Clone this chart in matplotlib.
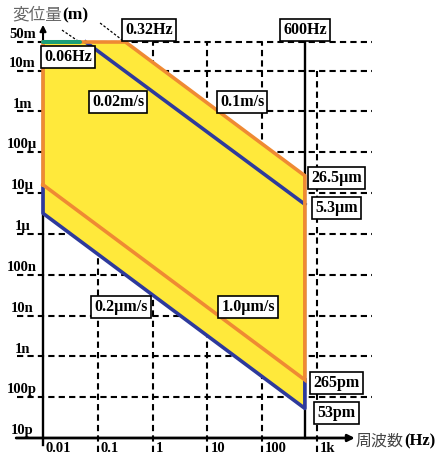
import matplotlib
matplotlib.use("Agg")
from matplotlib import pyplot as plt
import numpy as np

plt.rcParams["font.family"] = ["Liberation Serif", "DejaVu Serif"]
plt.rcParams["font.weight"] = "bold"

# displacement ticks (m) and frequency ticks (Hz)
y_ticks = [5e-2, 1e-2, 1e-3, 1e-4, 1e-5, 1e-6, 1e-7, 1e-8, 1e-9, 1e-10, 1e-11]
y_labels = ["50m", "10m", "1m", "100µ", "10µ", "1µ", "100n", "10n", "1n", "100p", "10p"]
x_ticks = [0.01, 0.1, 1, 10, 100, 1000]
x_labels = ["0.01", "0.1", "1", "10", "100", "1k"]

# measurable range limits
f_min, f_max = 0.01, 600.0
d_max = 0.05
v_high = [0.1, 0.02]          # m/s (upper boundary lines)
v_low = [1.0e-6, 0.2e-6]      # m/s (lower boundary lines)
f_corner = [0.32, 0.06]       # Hz where upper lines meet 50m

def disp(v, f):
    return v / (2 * np.pi * np.asarray(f, dtype=float))

yellow = "#ffe93b"
orange = "#ef8a33"
blue = "#2e3a9c"
green = "#1a9f78"

fig = plt.figure(figsize=(4.43, 4.54), dpi=100)
ax = fig.add_axes([0, 0, 1, 1])
ax.set_xscale("log")
ax.set_yscale("log")
ax.set_xlim(10**-2.785, 10**5.299)
ax.set_ylim(10**-11.392, 10**-0.272)
ax.axis("off")

grid_kw = dict(color="black", lw=1.5, linestyles=(0, (3, 2)), zorder=1)
ax.hlines(y_ticks[:-1], 10**-2.47, 1e4, **grid_kw)
ax.vlines(x_ticks[1:-1], 10**-11.34, d_max, **grid_kw)
ax.vlines(x_ticks[-1], 10**-11.34, 1e-2, **grid_kw)

# filled range
fx = [f_min, f_corner[0], f_max, f_max, f_min]
fy = [d_max, d_max, disp(v_high[0], f_max), disp(v_low[1], f_max), disp(v_low[1], f_min)]
ax.fill(fx, fy, color=yellow, lw=0, zorder=2)

# 600Hz line and axes
ax.plot([f_max, f_max], [1e-11, 10**-1.25], color="black", lw=1.7, zorder=3)
ax.plot([f_min, f_min], [10**-11.17, d_max], color="black", lw=1.7, zorder=3)
ax.annotate("", xy=(10**3.69, 1e-11), xytext=(10**-2.49, 1e-11),
            arrowprops=dict(arrowstyle="-|>", color="black", lw=2.0, mutation_scale=10,
                            shrinkA=0, shrinkB=0), zorder=4)
ax.annotate("", xy=(f_min, 10**-0.88), xytext=(f_min, 10**-1.26),
            arrowprops=dict(arrowstyle="-|>", color="black", lw=1.5, mutation_scale=9,
                            shrinkA=0, shrinkB=0), zorder=4)

lw = 2.6
# blue lines
ax.plot([f_corner[1], f_max], [d_max, disp(v_high[1], f_max)], color=blue, lw=lw, zorder=5)
ax.plot([f_min, f_min, f_max, f_max],
        [disp(v_low[0], f_min), disp(v_low[1], f_min), disp(v_low[1], f_max), disp(v_low[0], f_max)],
        color=blue, lw=lw, zorder=5)
# orange outline
ox = [f_min, f_min, f_corner[0], f_max, f_max, f_min]
oy = [disp(v_low[0], f_min), d_max, d_max, disp(v_high[0], f_max), disp(v_low[0], f_max), disp(v_low[0], f_min)]
ax.plot(ox, oy, color=orange, lw=lw, zorder=6, solid_joinstyle="miter")
ax.plot([f_min, f_corner[1] * 0.8], [d_max, d_max], color=green, lw=lw + 0.3, zorder=7,
        solid_capstyle="round")

# leader lines
ax.plot([0.0222, 0.0435], [0.098, 0.053], color="black", lw=0.9, ls=(0, (2, 1.5)), zorder=4)
ax.plot([0.110, 0.288], [0.146, 0.054], color="black", lw=0.9, ls=(0, (2, 1.5)), zorder=4)

# tick labels
for v, s in zip(y_ticks, y_labels):
    ax.text(10**-2.38, v * 10**0.02, s, ha="center", va="bottom", fontsize=10.5, zorder=8)
for v, s in zip(x_ticks, x_labels):
    ax.text(v * 1.13, 10**-11.25, s, ha="left", va="center", fontsize=10.5, zorder=8)

box = dict(boxstyle="square,pad=0.2", fc="white", ec="black", lw=1.2)
labels = [
    ("0.06Hz", 0.0286, 0.0215), ("0.32Hz", 0.86, 0.098), ("600Hz", 600, 0.098),
    ("0.02m/s", 0.234, 1.7e-3), ("0.1m/s", 42.8, 1.7e-3),
    ("26.5µm", 2250, 2.33e-5), ("5.3µm", 2250, 4.3e-6),
    ("0.2µm/s", 0.265, 1.62e-8), ("1.0µm/s", 55, 1.62e-8),
    ("265pm", 2250, 2.22e-10), ("53pm", 2250, 4.1e-11),
]
for s, x, y in labels:
    ax.text(x, y, s, ha="center", va="center", fontsize=11.5, bbox=box, zorder=9)

# axis titles: kanji part, then the unit placed right after it
jp = ["Noto Sans CJK JP", "DejaVu Sans"]
t_y = fig.text(12 / 443, 1 - 15 / 454, "変位量", family=jp, fontsize=12, color="#666666",
               ha="left", va="center", weight="normal")
ax.annotate("(m)", xy=(1, 0.5), xycoords=t_y, ha="left", va="center", fontsize=12.5)
t_x = fig.text(356 / 443, 1 - 441 / 454, "周波数", family=jp, fontsize=11.5, color="#444444",
               ha="left", va="center", weight="normal")
ax.annotate("(Hz)", xy=(1, 0.5), xycoords=t_x, ha="left", va="center", fontsize=12)

fig.savefig("out.png", dpi=100)
